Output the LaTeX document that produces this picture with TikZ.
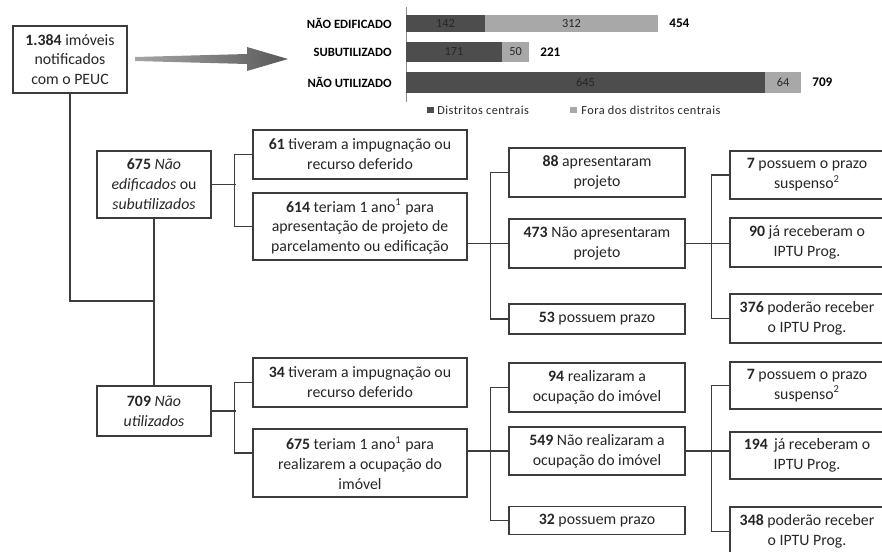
\documentclass[tikz,border=0pt]{standalone}
\usepackage{fontspec}
\setmainfont{Carlito}

\definecolor{barDark}{HTML}{4D4D4D}
\definecolor{barLight}{HTML}{A8A8A8}
\definecolor{lineGray}{HTML}{3C3C3C}

\begin{document}
\begin{tikzpicture}[x=0.02cm,y=-0.02cm,
	box/.style 2 args={draw=lineGray, line width=0.7pt, align=center, inner sep=0pt,
		minimum width=#1*0.02cm, minimum height=#2*0.02cm,
		font=\fontsize{9}{11.3}\selectfont, text=black!85},
	link/.style={draw=lineGray, line width=0.7pt},
	catlabel/.style={font=\fontsize{7.2}{8}\selectfont\bfseries, anchor=east, inner sep=0pt},
	barvalue/.style={font=\fontsize{7}{8}\selectfont, text=black!85, inner sep=0pt},
	bartotal/.style={font=\fontsize{7.5}{8}\selectfont\bfseries, anchor=west, inner sep=0pt},
	legendtext/.style={font=\fontsize{7}{8}\selectfont\addfontfeatures{LetterSpace=4}, anchor=west, inner sep=0pt, text=black!85}]
	\clip (0,0) rectangle (882,551);

	% Arrow towards the chart
	\shade[left color=black!35, right color=black!65] (135,57) -- (247,54) -- (247,47) -- (288,59) -- (247,71) -- (247,64) -- (135,61) -- cycle;

	% Bar chart (scale 0.557px per property)
	\draw[black!45] (406,7) -- (406,102);
	\fill[barDark] (406,15) rectangle (485,32);
	\fill[barLight] (485,15) rectangle (658,32);
	\fill[barDark] (406,42) rectangle (502,62);
	\fill[barLight] (502,42) rectangle (529,62);
	\fill[barDark] (406,72) rectangle (765,93);
	\fill[barLight] (765,72) rectangle (801,93);
	\node[catlabel] (catned) at (392,23.5) {NÃO EDIFICADO};
	\node[catlabel] (catsub) at (392,52) {SUBUTILIZADO};
	\node[catlabel] (catnut) at (392,82.5) {NÃO UTILIZADO};
	\node[barvalue] at (445.5,23.5) {142};
	\node[barvalue] at (571.5,23.5) {312};
	\node[barvalue] at (454,52) {171};
	\node[barvalue] at (515.5,52) {50};
	\node[barvalue] at (585.5,82.5) {645};
	\node[barvalue] at (783,82.5) {64};
	\node[bartotal] at (669,23.5) {454};
	\node[bartotal] at (540,52) {221};
	\node[bartotal] at (812,82.5) {709};
	% legend
	\fill[barDark] (427,107) rectangle (434,113);
	\node[legendtext] at (437,110) {Distritos centrais};
	\fill[barLight] (570,107) rectangle (577,113);
	\node[legendtext] at (581,110) {Fora dos distritos centrais};

	% Boxes
	\node[box={114}{67}] (total) at (70,59.5) {\textbf{1.384} imóveis\\notificados\\com o PEUC};
	\node[box={114}{67}] (nedif) at (154,184.5) {\textbf{675} \textit{Não}\\\textit{edificados} ou\\\textit{subutilizados}};
	\node[box={114}{50}] (nutil) at (154,411) {\textbf{709} \textit{Não}\\\textit{utilizados}};

	\node[box={214}{49}] (imp1) at (360,154.5) {\textbf{61} tiveram a impugnação ou\\recurso deferido};
	\node[box={214}{67}] (prazo1) at (360,226.5) {\textbf{614} teriam 1 ano\textsuperscript{1} para\\apresentação de projeto de\\parcelamento ou edificação};
	\node[box={214}{49}] (imp2) at (360,382.5) {\textbf{34} tiveram a impugnação ou\\recurso deferido};
	\node[box={214}{68}] (prazo2) at (360,463) {\textbf{675} teriam 1 ano\textsuperscript{1} para\\realizarem a ocupação do\\imóvel};

	\node[box={176}{49}] (apres) at (597,172.5) {\textbf{88} apresentaram\\projeto};
	\node[box={176}{49}] (naoapres) at (597,243.5) {\textbf{473} Não apresentaram\\projeto};
	\node[box={176}{30}] (possui1) at (597,319) {\textbf{53} possuem prazo};
	\node[box={176}{49}] (ocup) at (597,387.5) {\textbf{94} realizaram a\\ocupação do imóvel};
	\node[box={176}{48}] (naoocup) at (597,451) {\textbf{549} Não realizaram a\\ocupação do imóvel};
	\node[box={176}{28}] (possui2) at (597,520.5) {\textbf{32} possuem prazo};

	\node[box={154}{48}] (susp1) at (807,175) {\textbf{7} possuem o prazo\\suspenso\textsuperscript{2}};
	\node[box={154}{49}] (jarec1) at (807,242.5) {\textbf{90} já receberam o\\IPTU Prog.};
	\node[box={154}{49}] (poderao1) at (807,318.5) {\textbf{376} poderão receber\\o IPTU Prog.};
	\node[box={154}{47}] (susp2) at (807,385.5) {\textbf{7} possuem o prazo\\suspenso\textsuperscript{2}};
	\node[box={154}{47}] (jarec2) at (807,455.5) {\textbf{194}\, já receberam o\\IPTU Prog.};
	\node[box={154}{49}] (poderao2) at (807,531.5) {\textbf{348} poderão receber\\o IPTU Prog.};

	% Connectors
	\coordinate (join) at (154,301);
	\draw[link] (total.south) |- (join);
	\draw[link] (nedif.south) -- (nutil.north);

	\draw[link] (nedif.east) -- ++(24,0);
	\draw[link] (imp1.west) -- ++(-18,0) |- (prazo1.west);
	\draw[link] (prazo1.east |- naoapres) -- (naoapres.west);
	\draw[link] (apres.west) -- ++(-18,0) |- (possui1.west);
	\draw[link] (naoapres.east) -- (naoapres.east -| jarec1.west);
	\draw[link] (susp1.west) -- ++(-18,0) |- (poderao1.west);

	\draw[link] (nutil.east) -- ++(24,0);
	\draw[link] (imp2.west) -- ++(-18,0) |- ([yshift=0.2cm]prazo2.west);
	\draw[link] (prazo2.east |- naoocup) -- (naoocup.west);
	\draw[link] (ocup.west) -- ++(-18,0) |- (possui2.west);
	\draw[link] (naoocup.east) -- (naoocup.east -| jarec2.west);
	\draw[link] (susp2.west) -- ++(-18,0) |- (poderao2.west);
\end{tikzpicture}
\end{document}
